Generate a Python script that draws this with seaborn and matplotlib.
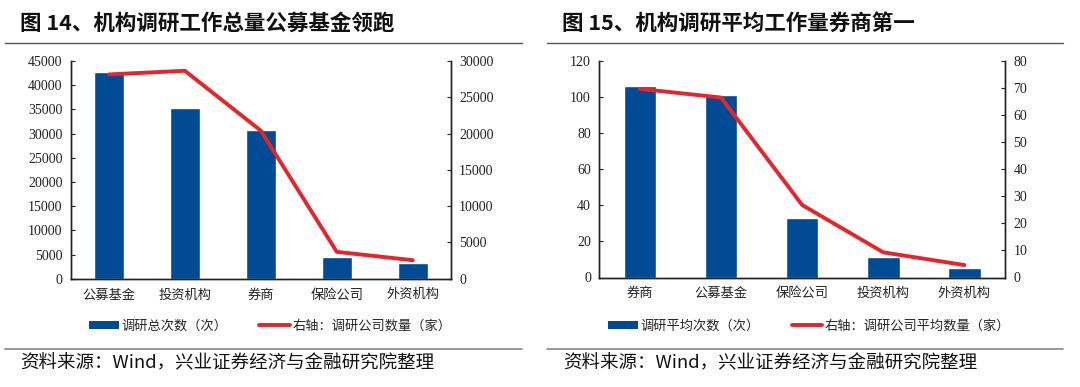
import numpy as np
import pandas as pd
import matplotlib
matplotlib.use("Agg")
import matplotlib.pyplot as plt
import seaborn as sns
from matplotlib.lines import Line2D
from matplotlib.patches import Patch

sns.set_theme(style="white")
plt.rcParams['font.family'] = ['Liberation Serif', 'Noto Sans CJK SC', 'DejaVu Sans']

# ---------------- data ----------------
cats_left = ["公募基金", "投资机构", "券商", "保险公司", "外资机构"]
total_visits = [42800, 35300, 30800, 4450, 3150]
company_count = [28150, 28650, 20400, 3700, 2550]

cats_right = ["券商", "公募基金", "保险公司", "投资机构", "外资机构"]
avg_visits = [106, 101, 33, 11.5, 5.4]
avg_company = [69.7, 66.5, 26.8, 9.3, 4.6]

title_left = "图 14、机构调研工作总量公募基金领跑"
title_right = "图 15、机构调研平均工作量券商第一"
bar_label_left = "调研总次数（次）"
line_label_left = "右轴：调研公司数量（家）"
bar_label_right = "调研平均次数（次）"
line_label_right = "右轴：调研公司平均数量（家）"
source = "资料来源：Wind，兴业证券经济与金融研究院整理"

left_ticks_l = np.arange(0, 45001, 5000)
right_ticks_l = np.arange(0, 30001, 5000)
left_ticks_r = np.arange(0, 121, 20)
right_ticks_r = np.arange(0, 81, 10)

BLUE = "#004B93"
RED = "#E3262B"
CJK = ['Noto Sans CJK SC', 'DejaVu Sans']
SERIF = ['Liberation Serif', 'DejaVu Serif']

fig = plt.figure(figsize=(10.8, 3.87), dpi=100)
W, H = 1080, 387


def fx(x):
    return x / W


def fy(y):
    return 1 - y / H


def panel(rect, cats, bars, line, lt, rt, bar_lbl, line_lbl, legend_x):
    ax = fig.add_axes(rect)
    df = pd.DataFrame({"cat": cats, "v": bars})
    sns.barplot(data=df, x="cat", y="v", color=BLUE, width=0.4,
                saturation=1, ax=ax, order=cats)
    ax.set_xlim(-0.5, len(cats) - 0.5)
    ax.set_ylim(lt[0], lt[-1])
    ax.set_yticks(lt)
    ax.set_yticklabels([str(v) for v in lt], fontsize=10, family=SERIF)
    ax.set_xlabel("")
    ax.set_ylabel("")
    ax.set_xticks(range(len(cats)))
    ax.set_xticklabels(cats, fontsize=9.5, family=CJK, color="#222222")
    ax2 = ax.twinx()
    sns.lineplot(x=np.arange(len(cats)), y=line, ax=ax2, color=RED,
                 linewidth=2.8, sort=False)
    ax2.set_ylim(rt[0], rt[-1])
    ax2.set_yticks(rt)
    ax2.set_yticklabels([str(v) for v in rt], fontsize=10, family=SERIF)
    ax2.set_ylabel("")
    for a in (ax, ax2):
        a.spines['top'].set_visible(False)
        for s in ('left', 'right', 'bottom'):
            a.spines[s].set_color("#222222")
            a.spines[s].set_linewidth(1.0)
    ax.tick_params(axis='y', direction='in', length=3, width=0.8,
                   left=True, pad=6, colors="#222222")
    ax.tick_params(axis='x', length=0, pad=7)
    ax2.tick_params(axis='y', direction='in', length=3, width=0.8,
                    right=True, pad=6, colors="#222222")
    ax.grid(False)
    ax2.grid(False)
    handles = [Patch(facecolor=BLUE, edgecolor='none'),
               Line2D([], [], color=RED, linewidth=2.8)]
    fig.legend(handles, [bar_lbl, line_lbl], loc='center',
               bbox_to_anchor=(legend_x, fy(326)), ncol=2, frameon=False,
               prop={'family': CJK, 'size': 9.5}, handlelength=2.3,
               handleheight=0.55, handletextpad=0.2, columnspacing=2.4)
    return ax


panel([fx(71), fy(278.7), fx(450.7 - 71), (278.7 - 61) / H],
      cats_left, total_visits, company_count, left_ticks_l, right_ticks_l,
      bar_label_left, line_label_left, fx(270))
panel([fx(599.3), fy(277.5), fx(1005 - 599.3), (277.5 - 61) / H],
      cats_right, avg_visits, avg_company, left_ticks_r, right_ticks_r,
      bar_label_right, line_label_right, fx(809))

# titles
fig.text(fx(20), fy(23), title_left, fontsize=15.5, fontweight='bold',
         family=CJK, va='center', ha='left', color="#111111")
fig.text(fx(562), fy(23), title_right, fontsize=15.5, fontweight='bold',
         family=CJK, va='center', ha='left', color="#111111")

# rules
for x0, x1 in ((5, 522), (547, 1063)):
    fig.add_artist(Line2D([fx(x0), fx(x1)], [fy(43), fy(43)],
                          color="#555555", linewidth=1.0))
    fig.add_artist(Line2D([fx(x0), fx(x1)], [fy(349), fy(349)],
                          color="#888888", linewidth=1.2))

# sources
fig.text(fx(20), fy(363), source, fontsize=13.3, family=CJK,
         va='center', ha='left', color="#111111")
fig.text(fx(563), fy(363), source, fontsize=13.3, family=CJK,
         va='center', ha='left', color="#111111")

fig.savefig("out.png", dpi=100)
